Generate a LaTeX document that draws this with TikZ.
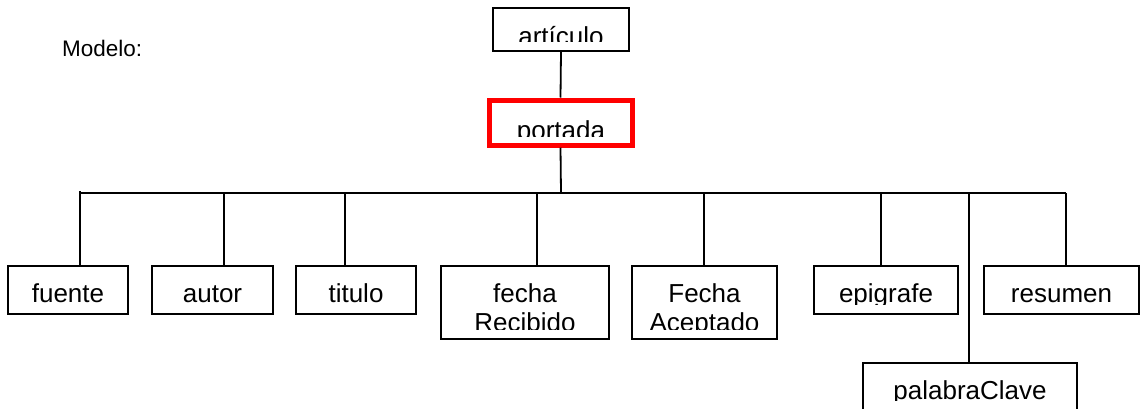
\documentclass[tikz,border=0pt]{standalone}
\usepackage{fontspec}
\setmainfont{Liberation Sans}
\begin{document}
\begin{tikzpicture}[x=1pt,y=-1pt,
  box/.style={draw=black, line width=1.8pt, rectangle, inner sep=0pt},
  redbox/.style={draw=red, line width=5pt, rectangle, inner sep=0pt},
  lbl/.style={inner sep=0pt, anchor=base, font=\fontsize{26}{29}\selectfont},
  conn/.style={draw=black, line width=1.8pt}]
\clip (0,0) rectangle (1143,408);
\fill[white] (0,0) rectangle (1143,408);

% title
\node[inner sep=0pt, anchor=base west, font=\fontsize{22.5}{26}\selectfont] (modelo) at (62,56) {Modelo:};

% boxes
\node[box, minimum width=136pt, minimum height=43pt] (art) at (561,29.5) {};
\node[redbox, minimum width=143pt, minimum height=45pt] (portada) at (560.5,122.5) {};
\node[box, minimum width=120pt, minimum height=48pt] (fuente) at (68,290) {};
\node[box, minimum width=121pt, minimum height=48pt] (autor) at (212.5,290) {};
\node[box, minimum width=120pt, minimum height=48pt] (titulo) at (356,290) {};
\node[box, minimum width=168pt, minimum height=73pt] (fechaR) at (525,302.5) {};
\node[box, minimum width=145pt, minimum height=73pt] (fechaA) at (704.5,302.5) {};
\node[box, minimum width=144pt, minimum height=48pt] (epigrafe) at (886,290) {};
\node[box, minimum width=155pt, minimum height=48pt] (resumen) at (1061.5,290) {};
\node[box, minimum width=214pt, minimum height=66pt] (palabra) at (970,396) {};

% texts (clipped like the original text boxes)
\begin{scope}\clip (495,10) rectangle (627,41);
\node[lbl] (tart) at (561,45) {artículo};\end{scope}
\begin{scope}\clip (492,103) rectangle (629,136);
\node[lbl] (tportada) at (561,139) {portada};\end{scope}
\node[lbl] (tfuente) at (68,302) {fuente};
\node[lbl] (tautor) at (212.5,302) {autor};
\node[lbl] (ttitulo) at (356,302) {titulo};
\node[lbl] (tfechaR1) at (525,302) {fecha};
\begin{scope}\clip (443,305) rectangle (607,329);
\node[lbl] (tfechaR2) at (525,331) {Recibido};\end{scope}
\node[lbl] (tfechaA1) at (704.5,302) {Fecha};
\begin{scope}\clip (634,305) rectangle (775,329);
\node[lbl] (tfechaA2) at (704.5,331) {Aceptado};\end{scope}
\begin{scope}\clip (816,268) rectangle (956,304);
\node[lbl] (tepigrafe) at (886,302) {epigrafe};\end{scope}
\node[lbl] (tresumen) at (1061.5,302) {resumen};
\begin{scope}\clip (865,365) rectangle (1075,400);
\node[lbl] (tpalabra) at (970,399) {palabraClave};\end{scope}

% connectors
\coordinate (bl) at (80,193);
\coordinate (br) at (1066,193);
\coordinate (bm) at (561,193);
\draw[conn] (art.south) -- (portada.north);
\draw[conn] (portada.south) -- (bm);
\draw[conn] (bl) -- (br);
\coordinate (b1) at (80,191);
\coordinate (b2) at (224,193);
\coordinate (b3) at (345,193);
\coordinate (b4) at (537,193);
\coordinate (b5) at (704,193);
\coordinate (b6) at (881,193);
\coordinate (b7) at (969,193);
\coordinate (b8) at (1066,193);
\draw[conn] (b1) -- (b1 |- fuente.north);
\draw[conn] (b2) -- (b2 |- autor.north);
\draw[conn] (b3) -- (b3 |- titulo.north);
\draw[conn] (b4) -- (b4 |- fechaR.north);
\draw[conn] (b5) -- (b5 |- fechaA.north);
\draw[conn] (b6) -- (b6 |- epigrafe.north);
\draw[conn] (b7) -- (b7 |- palabra.north);
\draw[conn] (b8) -- (b8 |- resumen.north);
\end{tikzpicture}
\end{document}
